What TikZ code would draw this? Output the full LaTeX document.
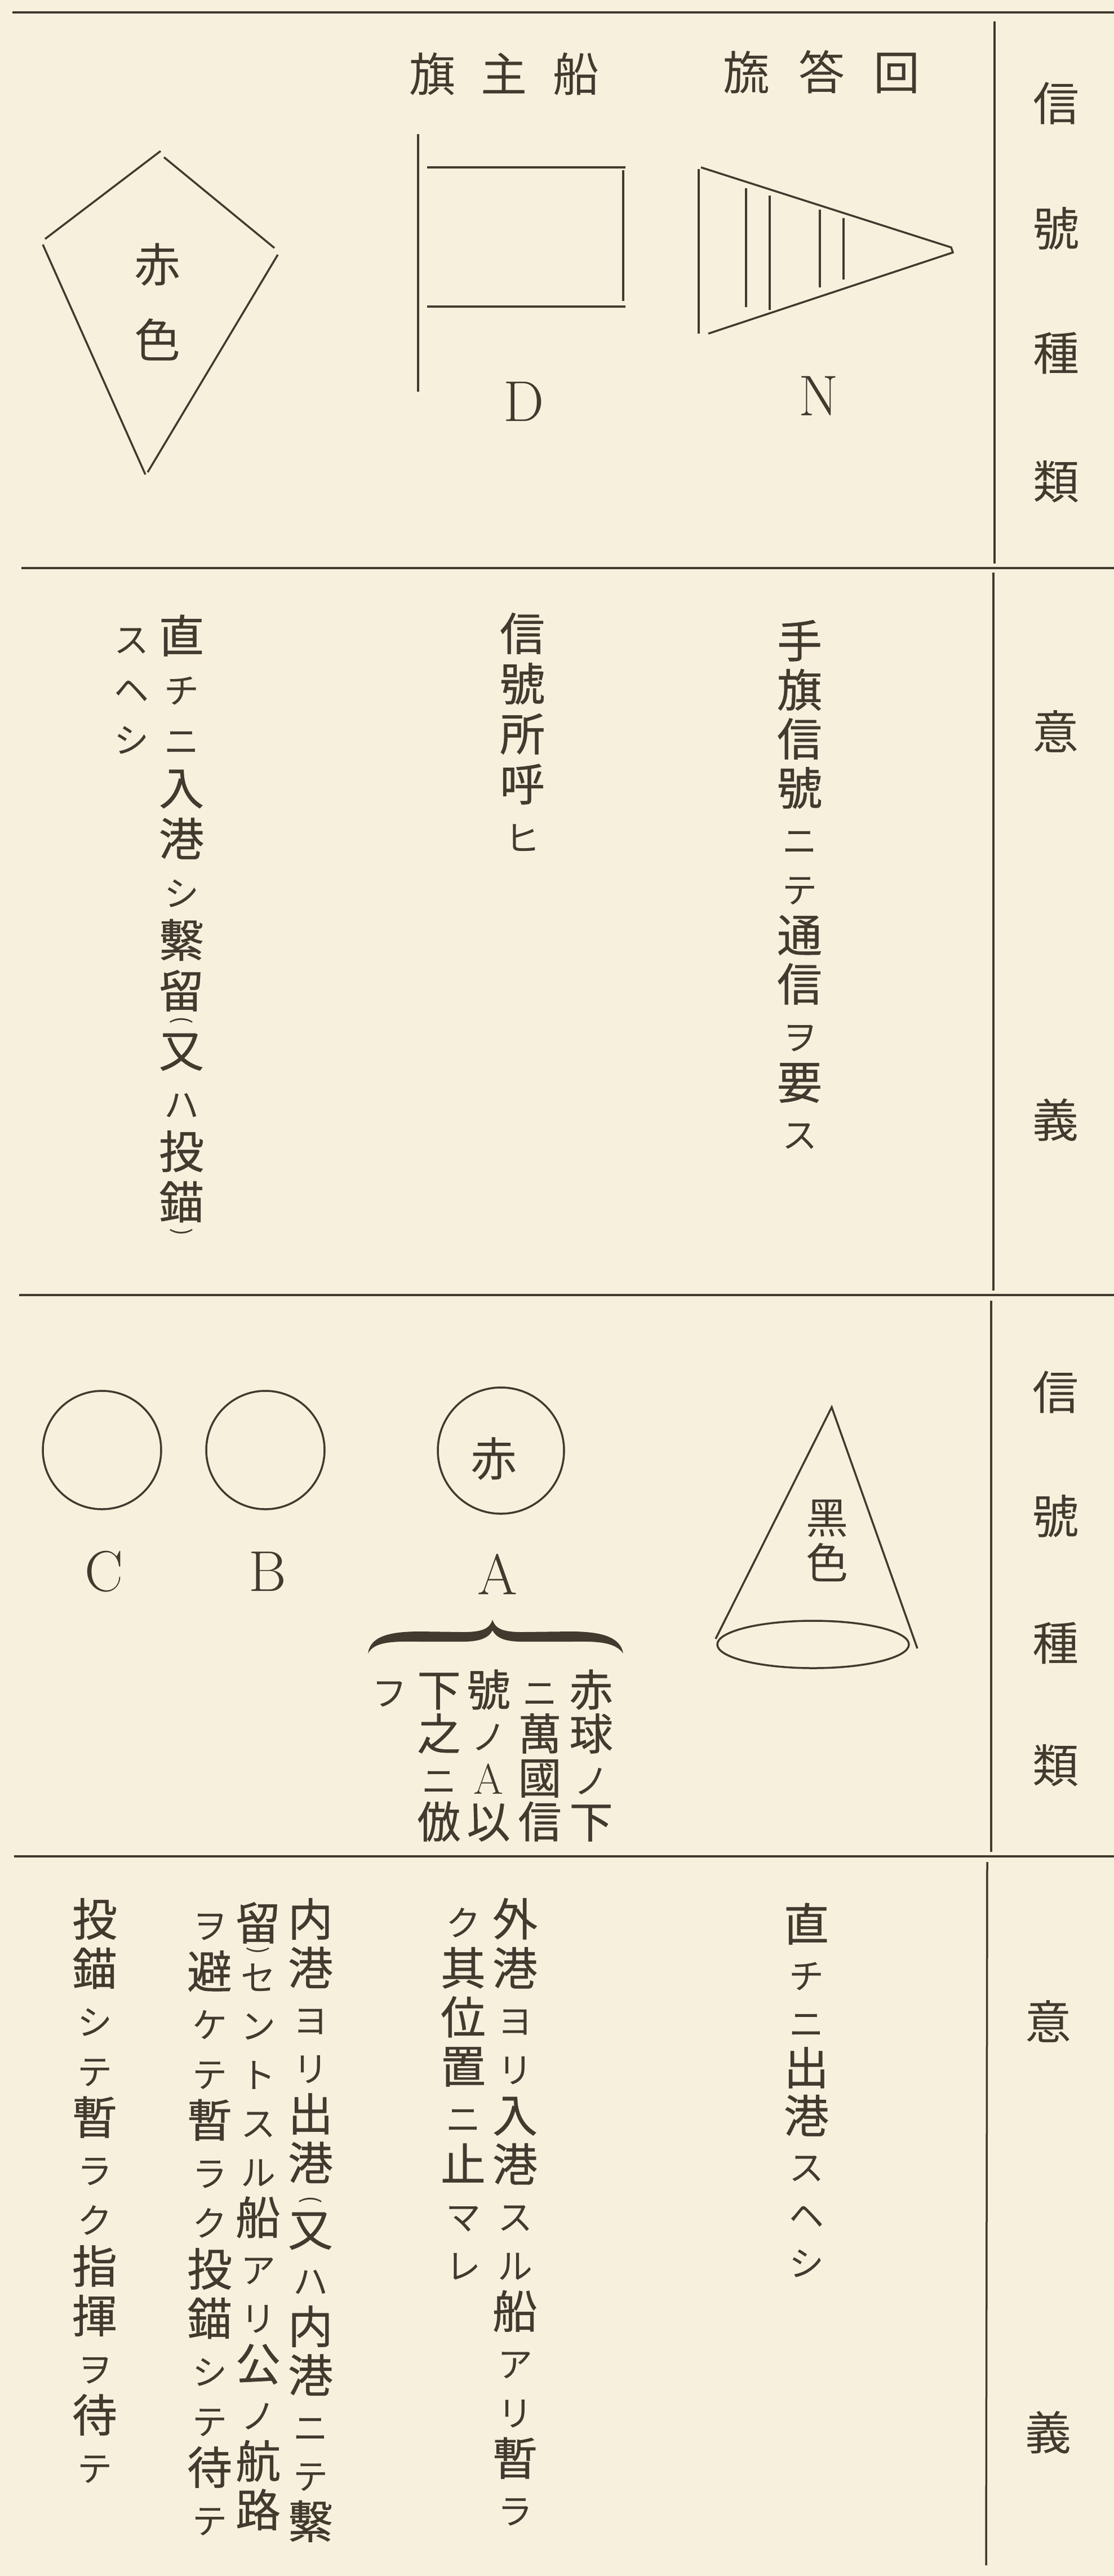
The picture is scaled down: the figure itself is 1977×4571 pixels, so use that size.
\documentclass[tikz,border=0pt]{standalone}
\usepackage{fontspec}
\usepackage{graphicx}
\newfontfamily\jp{Noto Sans CJK JP}
\newfontfamily\jb[FakeBold=0.6]{Noto Sans CJK JP}
\definecolor{paper}{RGB}{247,240,221}
\definecolor{ink}{RGB}{66,58,46}
\newcommand{\kn}[1]{{\jp\fontsize{62pt}{62pt}\selectfont #1}}
\newcommand{\lat}[1]{{\normalfont\fontsize{76pt}{76pt}\selectfont #1}}
\newcommand{\tp}{\rule{0pt}{70pt}}
\newcommand{\pl}{{\jp\fontsize{40pt}{40pt}\selectfont\rotatebox[origin=c]{-90}{(}}}
\newcommand{\pr}{{\jp\fontsize{40pt}{40pt}\selectfont\rotatebox[origin=c]{-90}{)}}}
\tikzset{
  ln/.style={draw=ink, line width=3.5pt},
  vcol/.style={anchor=north, align=center, inner sep=0pt, text=ink, font=\jb\fontsize{80pt}{#1}\selectfont},
  vcol/.default=87pt,
  lbl/.style={inner sep=0pt, text=ink, font=\jp\fontsize{82pt}{82pt}\selectfont},
  ltr/.style={inner sep=0pt, text=ink, font=\fontsize{102pt}{102pt}\selectfont},
}
\begin{document}
\begin{tikzpicture}[x=1pt, y=-1pt]

\useasboundingbox (0,0) rectangle (1977,4571);
\fill[paper] (0,0) rectangle (1977,4571);

\draw[ln] (22,22) -- (1977,22);
\draw[ln] (38,1008) -- (1977,1008);
\draw[ln] (34,2298) -- (1977,2298);
\draw[ln] (25,3294) -- (1977,3294);
\draw[ln] (1765,38) -- (1765,1000);
\draw[ln] (1763,1016) -- (1763,2290);
\draw[ln] (1759,2308) -- (1759,3286);
\draw[ln] (1752,3304) -- (1750,4552);

\node[lbl] (k1) at (1874,183) {信};
\node[lbl] (k2) at (1874,406) {號};
\node[lbl] (k3) at (1874,627) {種};
\node[lbl] (k4) at (1874,855) {類};
\node[lbl] (i1) at (1873,1298) {意};
\node[lbl] (g1) at (1873,1987) {義};
\node[lbl] (k5) at (1873,2470) {信};
\node[lbl] (k6) at (1873,2691) {號};
\node[lbl] (k7) at (1873,2916) {種};
\node[lbl] (k8) at (1873,3133) {類};
\node[lbl] (i2) at (1860,3587) {意};
\node[lbl] (g2) at (1860,4316) {義};

\draw[ln] (80,424) -- (285,268);
\draw[ln] (291,279) -- (487,440);
\draw[ln] (76,434) -- (258,842);
\draw[ln] (493,452) -- (262,838);
\node[lbl] (kr) at (279,470) {赤};
\node[lbl] (kc) at (279,603) {色};

\node[lbl] (hdD) at (895,131) {旗\hspace{46pt}主\hspace{46pt}船};
\draw[ln] (742,238) -- (742,695);
\draw[ln] (758,297) -- (1110,297);
\draw[ln] (758,544) -- (1110,544);
\draw[ln] (1106,302) -- (1106,534);
\node[ltr] (lD) at (930,713) {D};

\node[lbl] (hdN) at (1458,128) {旒\hspace{52pt}答\hspace{52pt}回};
\draw[ln] (1240,300) -- (1240,592);
\draw[ln] (1244,297) -- (1688,439) -- (1691,448) -- (1257,592);
\draw[ln] (1324,334) -- (1324,545);
\draw[ln] (1366,347) -- (1366,550);
\draw[ln] (1455,372) -- (1455,510);
\draw[ln] (1497,387) -- (1497,496);
\node[ltr] (lN) at (1453,703) {N};

\node[vcol] (m1) at (1419,1097) {\tp 手\\旗\\信\\號\\\kn{ニ}\\\kn{テ}\\通\\信\\\kn{ヲ}\\要\\\kn{ス}};
\node[vcol=89pt] (m2) at (927,1084) {\tp 信\\號\\所\\呼\\\kn{ヒ}};
\node[vcol=90pt] (m3) at (322,1088) {\tp 直\\\kn{チ}\\\kn{ニ}\\入\\港\\\kn{シ}\\繫\\留\\[-56pt]\pl\\[-19pt]又\\\kn{ハ}\\投\\錨\\[-55pt]\pr};
\node[vcol=89pt] (m4) at (233,1088) {\tp\kn{ス}\\\kn{ヘ}\\\kn{シ}};

\draw[ln] (181,2573) circle[radius=105];
\draw[ln] (471,2573) circle[radius=105];
\draw[ln] (889,2574) circle[radius=112];
\node[lbl] (ar) at (876,2589) {赤};
\node[ltr] (lC) at (185,2789) {C};
\node[ltr] (lB) at (475,2789) {B};
\node[ltr] (lA) at (883,2793) {A};

\fill[ink] (653,2934) .. controls (657,2904) and (690,2895) .. (745,2895)
  -- (822,2896) .. controls (856,2896) and (869,2890) .. (874,2874)
  .. controls (879,2890) and (892,2896) .. (926,2896)
  -- (1012,2895) .. controls (1066,2895) and (1101,2904) .. (1106,2934)
  .. controls (1092,2914) and (1062,2912) .. (1012,2913)
  -- (926,2913) .. controls (894,2913) and (880,2905) .. (874,2893)
  .. controls (868,2905) and (854,2913) .. (822,2913)
  -- (745,2913) .. controls (692,2912) and (664,2914) .. (653,2934) -- cycle;
\node[vcol=78pt, font=\jb\fontsize{77pt}{78pt}\selectfont] (b1) at (1049,2957) {\tp 赤\\球\\\kn{ノ}\\下};
\node[vcol=78pt, font=\jb\fontsize{77pt}{78pt}\selectfont] (b2) at (958,2957) {\tp\kn{ニ}\\萬\\國\\信};
\node[vcol=78pt, font=\jb\fontsize{77pt}{78pt}\selectfont] (b3) at (867,2957) {\tp 號\\\kn{ノ}\\\lat{A}\\以};
\node[vcol=78pt, font=\jb\fontsize{77pt}{78pt}\selectfont] (b4) at (779,2957) {\tp 下\\之\\\kn{ニ}\\倣};
\node[vcol=78pt, font=\jb\fontsize{77pt}{78pt}\selectfont] (b5) at (691,2957) {\tp\kn{フ}};

\draw[ln] (1270,2908) -- (1476,2497) -- (1628,2925);
\draw[ln] (1443,2918) ellipse[x radius=170, y radius=42];
\node[lbl, font=\jp\fontsize{75pt}{75pt}\selectfont] (cb) at (1468,2695) {黑};
\node[lbl, font=\jp\fontsize{75pt}{75pt}\selectfont] (cc) at (1468,2772) {色};

\node[vcol=85pt] (n1) at (1431,3374) {\tp 直\\\kn{チ}\\\kn{ニ}\\出\\港\\\kn{ス}\\\kn{ヘ}\\\kn{シ}};
\node[vcol] (n2) at (914,3365) {\tp 外\\港\\\kn{ヨ}\\\kn{リ}\\入\\港\\\kn{ス}\\\kn{ル}\\船\\\kn{ア}\\\kn{リ}\\暫\\\kn{ラ}};
\node[vcol] (n3) at (822,3365) {\tp\kn{ク}\\其\\位\\置\\\kn{ニ}\\止\\\kn{マ}\\\kn{レ}};
\node[vcol=86.5pt] (n4) at (551,3365) {\tp 内\\港\\\kn{ヨ}\\\kn{リ}\\出\\港\\[-39pt]\pl\\[-16.5pt]又\\\kn{ハ}\\内\\港\\\kn{ニ}\\\kn{テ}\\繫};
\node[vcol=86.5pt] (n5) at (458,3372) {\tp 留\\[-55.5pt]\pr\\[-27.5pt]\kn{セ}\\\kn{ン}\\\kn{ト}\\\kn{ス}\\\kn{ル}\\船\\\kn{ア}\\\kn{リ}\\公\\\kn{ノ}\\航\\路};
\node[vcol=88pt] (n6) at (372,3370) {\tp\kn{ヲ}\\避\\\kn{ケ}\\\kn{テ}\\暫\\\kn{ラ}\\\kn{ク}\\投\\錨\\\kn{シ}\\\kn{テ}\\待\\\kn{テ}};
\node[vcol=88pt] (n7) at (168,3365) {\tp 投\\錨\\\kn{シ}\\\kn{テ}\\暫\\\kn{ラ}\\\kn{ク}\\指\\揮\\\kn{ヲ}\\待\\\kn{テ}};

\end{tikzpicture}
\end{document}
